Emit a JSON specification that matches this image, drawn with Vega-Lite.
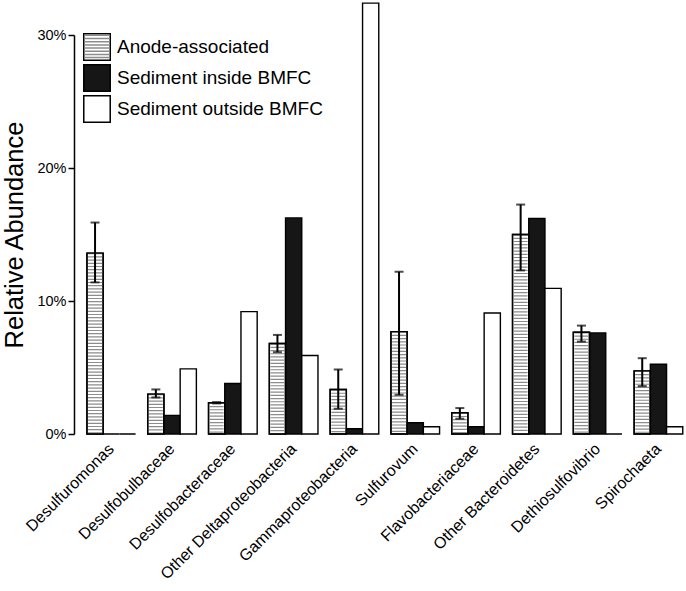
{
  "$schema": "https://vega.github.io/schema/vega-lite/v6.json",
  "width": 612,
  "height": 399,
  "autosize": {"type": "none"},
  "padding": {"left": 74, "top": 35, "right": 0, "bottom": 157},
  "background": "white",
  "config": {
    "font": "Liberation Sans",
    "view": {"stroke": null}
  },
  "data": {
    "values": [
      {"taxon": "Desulfuromonas", "series": "Anode-associated", "value": 13.6, "lo": 11.4, "hi": 15.9},
      {"taxon": "Desulfuromonas", "series": "Sediment inside BMFC", "value": 0},
      {"taxon": "Desulfuromonas", "series": "Sediment outside BMFC", "value": 0},
      {"taxon": "Desulfobulbaceae", "series": "Anode-associated", "value": 3.0, "lo": 2.75, "hi": 3.35},
      {"taxon": "Desulfobulbaceae", "series": "Sediment inside BMFC", "value": 1.4},
      {"taxon": "Desulfobulbaceae", "series": "Sediment outside BMFC", "value": 4.9},
      {"taxon": "Desulfobacteraceae", "series": "Anode-associated", "value": 2.35, "lo": 2.3, "hi": 2.4},
      {"taxon": "Desulfobacteraceae", "series": "Sediment inside BMFC", "value": 3.8},
      {"taxon": "Desulfobacteraceae", "series": "Sediment outside BMFC", "value": 9.2},
      {"taxon": "Other Deltaproteobacteria", "series": "Anode-associated", "value": 6.8, "lo": 6.15, "hi": 7.45},
      {"taxon": "Other Deltaproteobacteria", "series": "Sediment inside BMFC", "value": 16.25},
      {"taxon": "Other Deltaproteobacteria", "series": "Sediment outside BMFC", "value": 5.9},
      {"taxon": "Gammaproteobacteria", "series": "Anode-associated", "value": 3.35, "lo": 1.9, "hi": 4.85},
      {"taxon": "Gammaproteobacteria", "series": "Sediment inside BMFC", "value": 0.4},
      {"taxon": "Gammaproteobacteria", "series": "Sediment outside BMFC", "value": 32.4},
      {"taxon": "Sulfurovum", "series": "Anode-associated", "value": 7.7, "lo": 2.95, "hi": 12.2},
      {"taxon": "Sulfurovum", "series": "Sediment inside BMFC", "value": 0.85},
      {"taxon": "Sulfurovum", "series": "Sediment outside BMFC", "value": 0.55},
      {"taxon": "Flavobacteriaceae", "series": "Anode-associated", "value": 1.6, "lo": 1.15, "hi": 1.95},
      {"taxon": "Flavobacteriaceae", "series": "Sediment inside BMFC", "value": 0.55},
      {"taxon": "Flavobacteriaceae", "series": "Sediment outside BMFC", "value": 9.1},
      {"taxon": "Other Bacteroidetes", "series": "Anode-associated", "value": 15.0, "lo": 12.3, "hi": 17.25},
      {"taxon": "Other Bacteroidetes", "series": "Sediment inside BMFC", "value": 16.2},
      {"taxon": "Other Bacteroidetes", "series": "Sediment outside BMFC", "value": 10.95},
      {"taxon": "Dethiosulfovibrio", "series": "Anode-associated", "value": 7.65, "lo": 6.95, "hi": 8.15},
      {"taxon": "Dethiosulfovibrio", "series": "Sediment inside BMFC", "value": 7.6},
      {"taxon": "Dethiosulfovibrio", "series": "Sediment outside BMFC", "value": 0},
      {"taxon": "Spirochaeta", "series": "Anode-associated", "value": 4.75, "lo": 3.6, "hi": 5.7},
      {"taxon": "Spirochaeta", "series": "Sediment inside BMFC", "value": 5.25},
      {"taxon": "Spirochaeta", "series": "Sediment outside BMFC", "value": 0.55}
    ]
  },
  "encoding": {
    "x": {
      "field": "taxon",
      "type": "nominal",
      "scale": {
        "domain": ["Desulfuromonas", "Desulfobulbaceae", "Desulfobacteraceae", "Other Deltaproteobacteria", "Gammaproteobacteria", "Sulfurovum", "Flavobacteriaceae", "Other Bacteroidetes", "Dethiosulfovibrio", "Spirochaeta"],
        "paddingInner": 0.2,
        "paddingOuter": 0.133,
        "align": 0.8
      },
      "axis": {
        "title": null,
        "domain": false,
        "ticks": false,
        "labelAngle": -45,
        "labelAlign": "right",
        "labelBaseline": "middle",
        "labelPadding": 12,
        "labelFontSize": 16,
        "labelLimit": 400,
        "labelColor": "black"
      }
    },
    "xOffset": {
      "field": "series",
      "type": "nominal",
      "scale": {"domain": ["Anode-associated", "Sediment inside BMFC", "Sediment outside BMFC"]}
    }
  },
  "layer": [
    {
      "mark": {"type": "bar", "stroke": "black", "strokeWidth": 1.4},
      "encoding": {
        "y": {
          "field": "value",
          "type": "quantitative",
          "scale": {"domain": [0, 30], "nice": false},
          "axis": {
            "title": "Relative Abundance",
            "values": [0, 10, 20, 30],
            "labelExpr": "datum.value + '%'",
            "grid": false,
            "domainColor": "black",
            "domainWidth": 1.5,
            "tickColor": "black",
            "tickWidth": 1.5,
            "tickSize": 6,
            "labelPadding": 2,
            "labelFontSize": 14.5,
            "labelColor": "black",
            "titleFontSize": 25.5,
            "titleFontWeight": "normal",
            "titleColor": "black",
            "titlePadding": 9
          }
        },
        "fill": {
          "field": "series",
          "type": "nominal",
          "scale": {
            "domain": ["Anode-associated", "Sediment inside BMFC", "Sediment outside BMFC"],
            "range": ["transparent", "#161616", "white"]
          },
          "legend": {
            "title": null,
            "orient": "none",
            "legendX": 9,
            "legendY": -2,
            "padding": 0,
            "symbolType": "square",
            "symbolSize": 700,
            "labelFontSize": 19,
            "labelColor": "black",
            "labelOffset": 6,
            "labelLimit": 400,
            "rowPadding": -3.5,
            "encode": {
              "symbols": {
                "update": {
                  "stroke": {"value": "black"},
                  "strokeWidth": {"value": 1.4},
                  "opacity": {"value": 1}
                }
              }
            }
          }
        }
      }
    },
    {
      "transform": [{"filter": "datum.series === 'Anode-associated'"}],
      "mark": {"type": "rule", "strokeWidth": 14, "strokeDash": [1.2, 2], "color": "#8c8c8c"},
      "encoding": {
        "y": {"field": "value", "type": "quantitative", "title": "Relative Abundance"},
        "y2": {"datum": 0}
      }
    },
    {
      "transform": [{"filter": "datum.series === 'Anode-associated'"}],
      "mark": {"type": "bar", "fill": "transparent", "stroke": "black", "strokeWidth": 1.4},
      "encoding": {
        "y": {"field": "value", "type": "quantitative", "title": "Relative Abundance"}
      }
    },
    {
      "transform": [{"filter": "datum.series === 'Anode-associated'"}],
      "mark": {"type": "point", "filled": false, "opacity": 0, "color": "#8c8c8c"},
      "encoding": {
        "y": {"field": "value", "type": "quantitative", "title": "Relative Abundance"},
        "shape": {
          "field": "series",
          "type": "nominal",
          "scale": {
            "domain": ["Anode-associated"],
            "range": ["M-0.95,-0.88H0.95M-0.95,-0.64H0.95M-0.95,-0.4H0.95M-0.95,-0.16H0.95M-0.95,0.08H0.95M-0.95,0.32H0.95M-0.95,0.56H0.95M-0.95,0.8H0.95"]
          },
          "legend": {
            "title": null,
            "orient": "none",
            "legendX": 9,
            "legendY": -2,
            "padding": 0,
            "symbolSize": 700,
            "labelFontSize": 19,
            "labelColor": "transparent",
            "labelOpacity": 0,
            "labelOffset": 6,
            "labelLimit": 400,
            "rowPadding": -3.5,
            "encode": {
              "symbols": {
                "update": {
                  "stroke": {"value": "#8c8c8c"},
                  "strokeWidth": {"value": 1.1},
                  "fill": {"value": "transparent"},
                  "opacity": {"value": 1}
                }
              }
            }
          }
        }
      }
    },
    {
      "transform": [{"filter": "isValid(datum.lo)"}],
      "mark": {"type": "rule", "strokeWidth": 2, "color": "black"},
      "encoding": {
        "y": {"field": "lo", "type": "quantitative", "title": "Relative Abundance"},
        "y2": {"field": "hi"}
      }
    },
    {
      "transform": [{"filter": "isValid(datum.lo)"}],
      "mark": {"type": "tick", "size": 9, "thickness": 2, "color": "black"},
      "encoding": {
        "y": {"field": "lo", "type": "quantitative", "title": "Relative Abundance"}
      }
    },
    {
      "transform": [{"filter": "isValid(datum.hi)"}],
      "mark": {"type": "tick", "size": 9, "thickness": 2, "color": "black"},
      "encoding": {
        "y": {"field": "hi", "type": "quantitative", "title": "Relative Abundance"}
      }
    }
  ]
}
